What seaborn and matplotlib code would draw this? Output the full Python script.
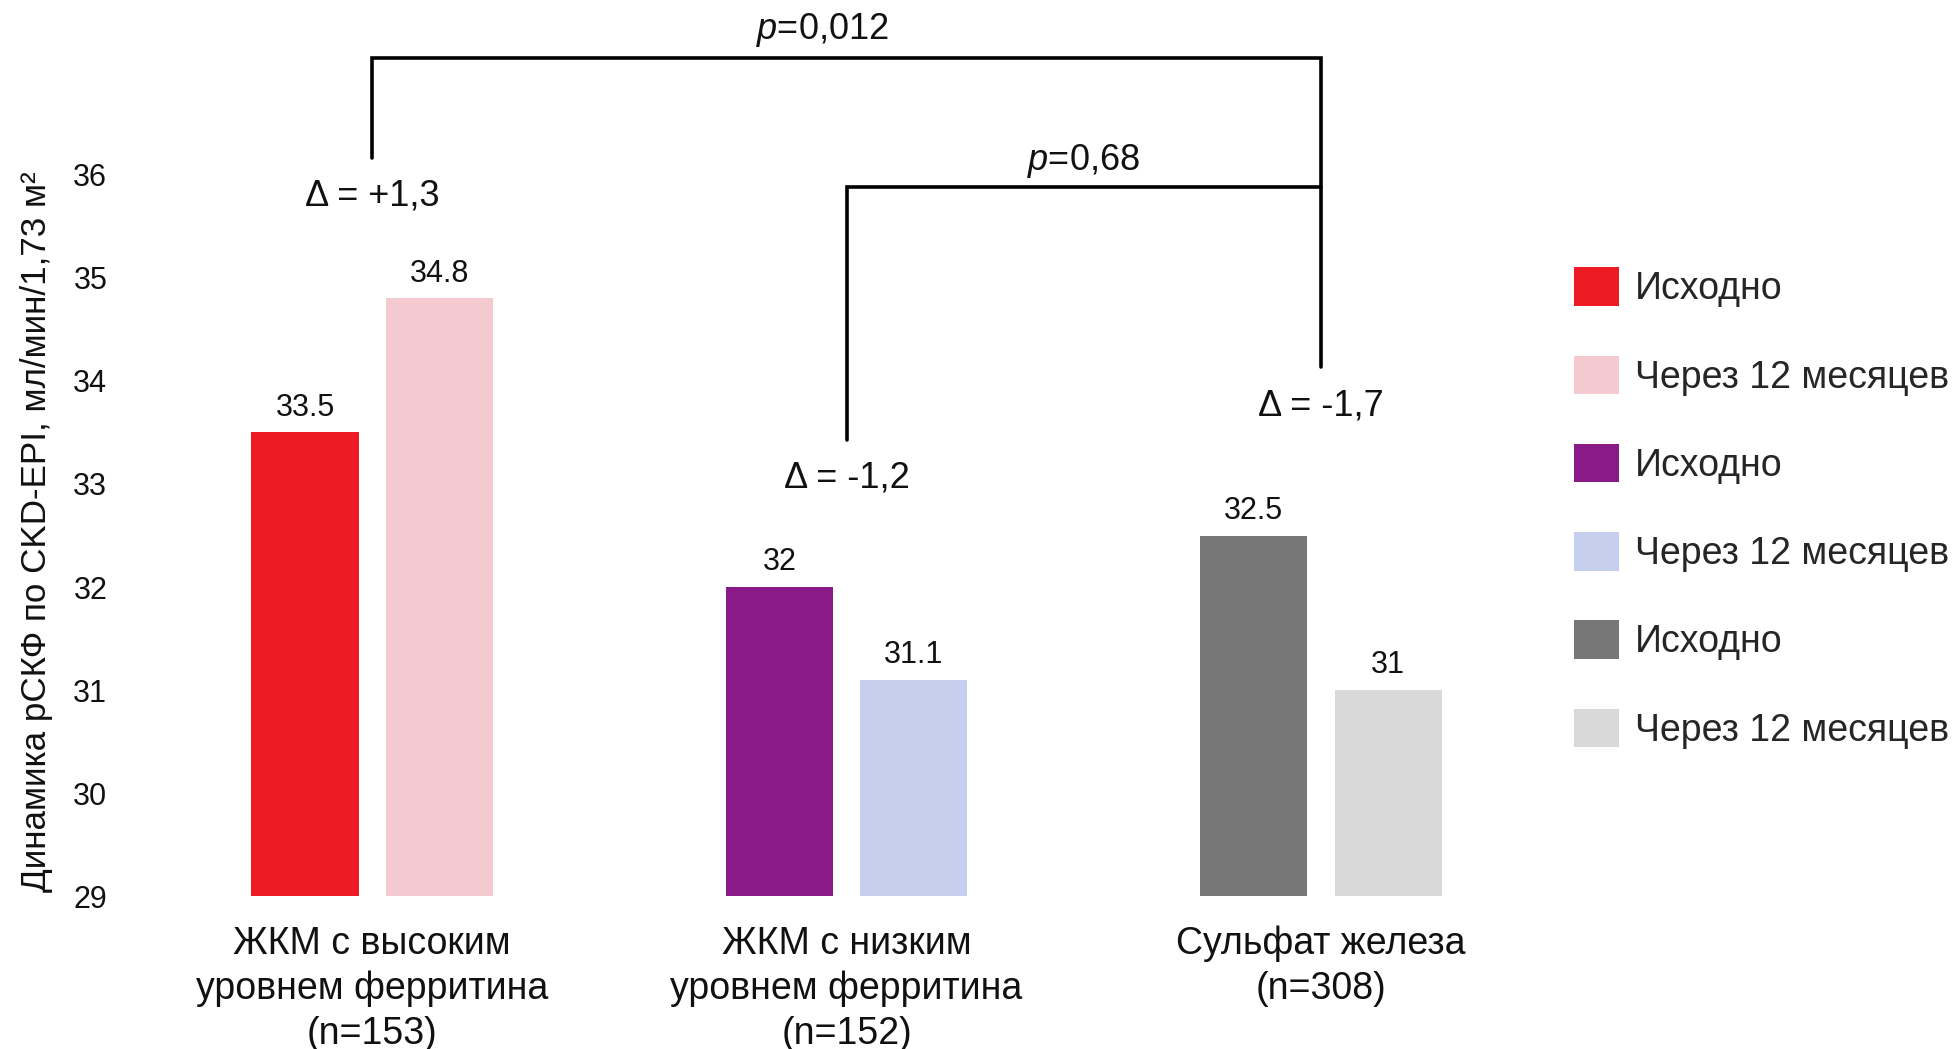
import matplotlib
matplotlib.use("Agg")
import matplotlib.pyplot as plt
import seaborn as sns
import pandas as pd
from matplotlib.patches import Patch

groups = ["ЖКМ с высоким\nуровнем ферритина\n(n=153)",
          "ЖКМ с низким\nуровнем ферритина\n(n=152)",
          "Сульфат железа\n(n=308)"]
times = ["Исходно", "Через 12 месяцев"]
baseline = [33.5, 32.0, 32.5]
month12 = [34.8, 31.1, 31.0]
colors = [["#ED1C24", "#F4CAD0"],
          ["#8B1A89", "#C5CEED"],
          ["#777777", "#D9D9D9"]]
deltas = ["Δ = +1,3", "Δ = -1,2", "Δ = -1,7"]
p_values = ["$\\it{p}$=0,012", "$\\it{p}$=0,68"]
yticks = [29, 30, 31, 32, 33, 34, 35, 36]
ylabel = "Динамика рСКФ по CKD-EPI, мл/мин/1,73 м²"

sns.set_theme(style="white")
plt.rcParams["font.family"] = ["Liberation Sans", "DejaVu Sans"]
plt.rcParams["mathtext.fontset"] = "custom"
plt.rcParams["mathtext.rm"] = "Liberation Sans"
plt.rcParams["mathtext.it"] = "Liberation Sans:italic"

df = pd.DataFrame({
    "group": groups * 2,
    "time": [times[0]] * 3 + [times[1]] * 3,
    "value": baseline + month12,
})

fig = plt.figure(figsize=(19.52, 10.49), dpi=100)
ax = fig.add_axes([0.0692, 0.1455, 0.7047, 0.8354])

sns.barplot(data=df, x="group", y="value", hue="time", order=groups,
            hue_order=times, width=0.567, gap=0.204, ax=ax, legend=False,
            palette=["#ED1C24", "#F4CAD0"], saturation=1, errorbar=None)

for h, cont in enumerate(ax.containers):
    for g, bar in enumerate(cont):
        bar.set_facecolor(colors[g][h])
        bar.set_edgecolor("none")

# bars start at 29
for cont in ax.containers:
    for bar in cont:
        bar.set_y(29)
        bar.set_height(bar.get_height() - 29)

for h, cont in enumerate(ax.containers):
    ax.bar_label(cont, labels=[f"{v:g}" for v in (baseline if h == 0 else month12)],
                 padding=7, fontsize=22, color="#111111")

ax.set_ylim(29, 37.5)
ax.set_xlim(-0.5, 2.4)
ax.set_yticks(yticks)
ax.set_yticklabels([str(t) for t in yticks])
ax.tick_params(axis="y", length=0, pad=20, labelsize=22, labelcolor="#111111")
ax.tick_params(axis="x", length=0, pad=21, labelsize=27, labelcolor="#111111")
for lab in ax.get_xticklabels():
    lab.set_linespacing(1.32)
for s in ax.spines.values():
    s.set_visible(False)
ax.set_xlabel("")
ax.set_ylabel(ylabel, fontsize=25.2, color="#111111")
ax.yaxis.set_label_coords(-0.060, 0.416)

# brackets
lw = 2.6
ax.plot([0, 0, 2, 2], [36.16, 37.13, 37.13, 34.13], color="black", lw=lw,
        clip_on=False, solid_joinstyle="miter")
ax.plot([1, 1, 2], [33.43, 35.88, 35.88], color="black", lw=lw,
        clip_on=False, solid_joinstyle="miter")
ax.text(0.95, 37.40, p_values[0], ha="center", va="center", fontsize=26, color="#111111")
ax.text(1.5, 36.13, p_values[1], ha="center", va="center", fontsize=26, color="#111111")
delta_y = [35.79, 33.06, 33.76]
for g in range(3):
    ax.text(g, delta_y[g], deltas[g], ha="center", va="center", fontsize=26, color="#111111")

handles = []
labels = []
for g in range(3):
    for h in range(2):
        handles.append(Patch(facecolor=colors[g][h], edgecolor="none"))
        labels.append(times[h])
fig.legend(handles, labels, loc="upper left", bbox_to_anchor=(0.8064, 0.745),
           frameon=False, fontsize=27, handlelength=1.2, handleheight=1.2,
           handletextpad=0.43, labelspacing=1.29, borderpad=0, borderaxespad=0)

fig.savefig("out.png", dpi=100)
